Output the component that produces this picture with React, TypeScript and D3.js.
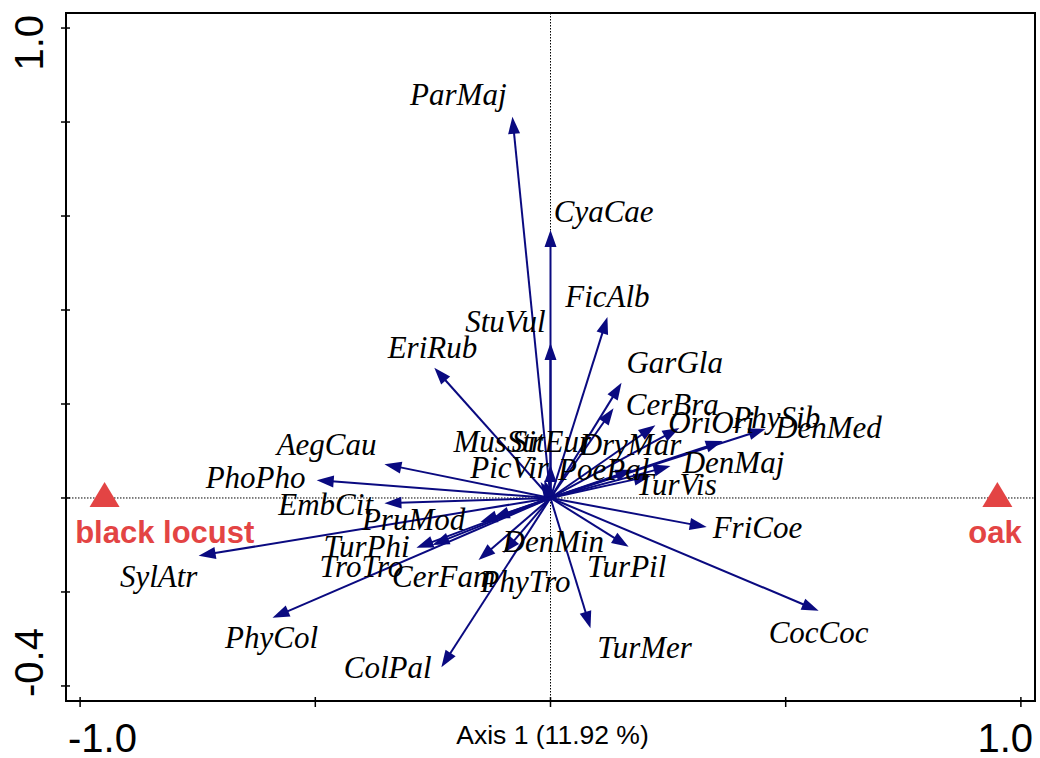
import React from "react";
import * as d3 from "d3";

// Species arrows (tips, in axis units)
const species = ["ParMaj","CyaCae","FicAlb","StuVul","EriRub","GarGla","CerBra","DryMar","OriOri","PhySib","DenMed","DenMaj","PoePal","TurVis","SitEur","MusStr","PicVir","AegCau","PhoPho","EmbCit","PruMod","DenMin","TurPhi","TroTro","CerFam","PhyTro","TurPil","FriCoe","TurMer","CocCoc","ColPal","PhyCol","SylAtr"];
const spX = [-0.081,0,0.121,0,-0.247,0.151,0.134,0.223,0.274,0.366,0.457,0.255,0.174,0.213,0,-0.021,-0.013,-0.353,-0.497,-0.353,-0.149,-0.123,-0.251,-0.285,-0.153,-0.100,0.166,0.332,0.085,0.570,-0.232,-0.591,-0.748];
const spY = [0.811,0.570,0.385,0.330,0.277,0.245,0.191,0.155,0.149,0.121,0.147,0.068,0.060,0.047,0.070,0.034,0.038,0.072,0.038,-0.011,-0.051,-0.043,-0.100,-0.106,-0.132,-0.117,-0.104,-0.062,-0.277,-0.240,-0.360,-0.255,-0.123];
// Label positions (centre x, baseline y, in axis units)
const labX = [-0.196,0.113,0.121,-0.096,-0.251,0.264,0.259,0.170,0.342,0.480,0.591,0.389,0.113,0.268,0.002,-0.111,-0.087,-0.476,-0.627,-0.478,-0.291,0.006,-0.391,-0.402,-0.227,-0.053,0.162,0.440,0.200,0.570,-0.346,-0.593,-0.833];
const labY = [0.836,0.587,0.406,0.353,0.298,0.266,0.177,0.091,0.138,0.149,0.128,0.053,0.038,0.006,0.098,0.098,0.043,0.091,0.021,-0.036,-0.068,-0.115,-0.126,-0.168,-0.189,-0.200,-0.168,-0.085,-0.340,-0.309,-0.383,-0.319,-0.189];

// Sites
const sites = ["black locust", "oak"];
const siteX = [-0.948, 0.950];
const siteY = [0, 0];
const siteLabX = [-0.820, 0.945];
const siteLabY = [-0.096, -0.096];

const xTicks = [-1, -0.5, 0, 0.5, 1];
const yTicks = [-0.4, -0.2, 0, 0.2, 0.4, 0.6, 0.8, 1.0];
const xTitle = "Axis 1 (11.92 %)";

const W = 1040, H = 758;
const L = 66, R = 1035, T = 13, B = 701;
const NAVY = "#0a0a80";
const RED = "#e34444";

const fmt = (v: number) => (v < 0 ? "-" : "") + Math.abs(v).toFixed(1);

export default function App() {
  const x = d3.scaleLinear().domain([-1.03, 1.03]).range([L, R]);
  const y = d3.scaleLinear().domain([-0.432, 1.032]).range([B, T]);
  const x0 = x(0), y0 = y(0);
  const headLen = 17, headHalf = 6;

  const arrows = species.map((s, i) => {
    const tx = x(spX[i]), ty = y(spY[i]);
    const dx = tx - x0, dy = ty - y0;
    const len = Math.hypot(dx, dy) || 1;
    const ux = dx / len, uy = dy / len;
    const bx = tx - ux * headLen, by = ty - uy * headLen;
    const px = -uy, py = ux;
    const pts = [[tx, ty], [bx + px * headHalf, by + py * headHalf], [bx - px * headHalf, by - py * headHalf]];
    return (
      <g key={s}>
        <line x1={x0} y1={y0} x2={bx + ux * 2} y2={by + uy * 2} stroke={NAVY} strokeWidth={2} />
        <polygon points={pts.map(p => p.join(",")).join(" ")} fill={NAVY} />
      </g>
    );
  });

  const sans = "'Liberation Sans', Arial, sans-serif";

  return (
    <div style={{ position: "absolute", left: 0, top: 0 }}>
      <svg width={W} height={H} style={{ display: "block", background: "#fff" }}>
        <rect x={0} y={0} width={W} height={H} fill="#fff" />
        {/* dotted reference lines */}
        <line x1={L} x2={R} y1={y0} y2={y0} stroke="#000" strokeWidth={1} strokeDasharray="1.5,1.5" />
        <line x1={x0} x2={x0} y1={T} y2={B} stroke="#000" strokeWidth={1} strokeDasharray="1.5,1.5" />
        {arrows}
        {/* site triangles */}
        {sites.map((s, i) => {
          const cx = x(siteX[i]), cy = y(siteY[i]);
          return <polygon key={s} points={`${cx},${cy - 16} ${cx - 15},${cy + 9} ${cx + 15},${cy + 9}`} fill={RED} />;
        })}
        {/* species labels */}
        {species.map((s, i) => (
          <text key={"l" + s} x={x(labX[i])} y={y(labY[i])} textAnchor="middle"
            fontFamily="'Liberation Serif', 'Times New Roman', serif" fontStyle="italic" fontSize={31} fill="#000">{s}</text>
        ))}
        {sites.map((s, i) => (
          <text key={"sl" + s} x={x(siteLabX[i])} y={y(siteLabY[i])} textAnchor="middle"
            fontFamily={sans} fontWeight="bold" fontSize={31} fill={RED}>{s}</text>
        ))}
        {/* box */}
        <rect x={L} y={T} width={R - L} height={B - T} fill="none" stroke="#000" strokeWidth={2} />
        {/* ticks */}
        {xTicks.map(t => (
          <line key={"xt" + t} x1={x(t)} x2={x(t)} y1={B - 4} y2={B + 6} stroke="#000" strokeWidth={1.5} />
        ))}
        {yTicks.map(t => (
          <line key={"yt" + t} x1={L - 5} x2={L + 4} y1={y(t)} y2={y(t)} stroke="#000" strokeWidth={1.5} />
        ))}
        {/* tick labels at extremes */}
        <text x={L + 2} y={752} textAnchor="start" fontFamily={sans} fontSize={40}>{fmt(xTicks[0])}</text>
        <text x={R - 2} y={752} textAnchor="end" fontFamily={sans} fontSize={40}>{fmt(xTicks[xTicks.length - 1])}</text>
        <text transform={`translate(43,${T + 2}) rotate(-90)`} textAnchor="end" fontFamily={sans} fontSize={40}>{fmt(yTicks[yTicks.length - 1])}</text>
        <text transform={`translate(43,${B - 4}) rotate(-90)`} textAnchor="start" fontFamily={sans} fontSize={40}>{fmt(yTicks[0])}</text>
        {/* axis title */}
        <text x={x(0) + 2} y={744} textAnchor="middle" fontFamily={sans} fontSize={26.5}>{xTitle}</text>
      </svg>
    </div>
  );
}
